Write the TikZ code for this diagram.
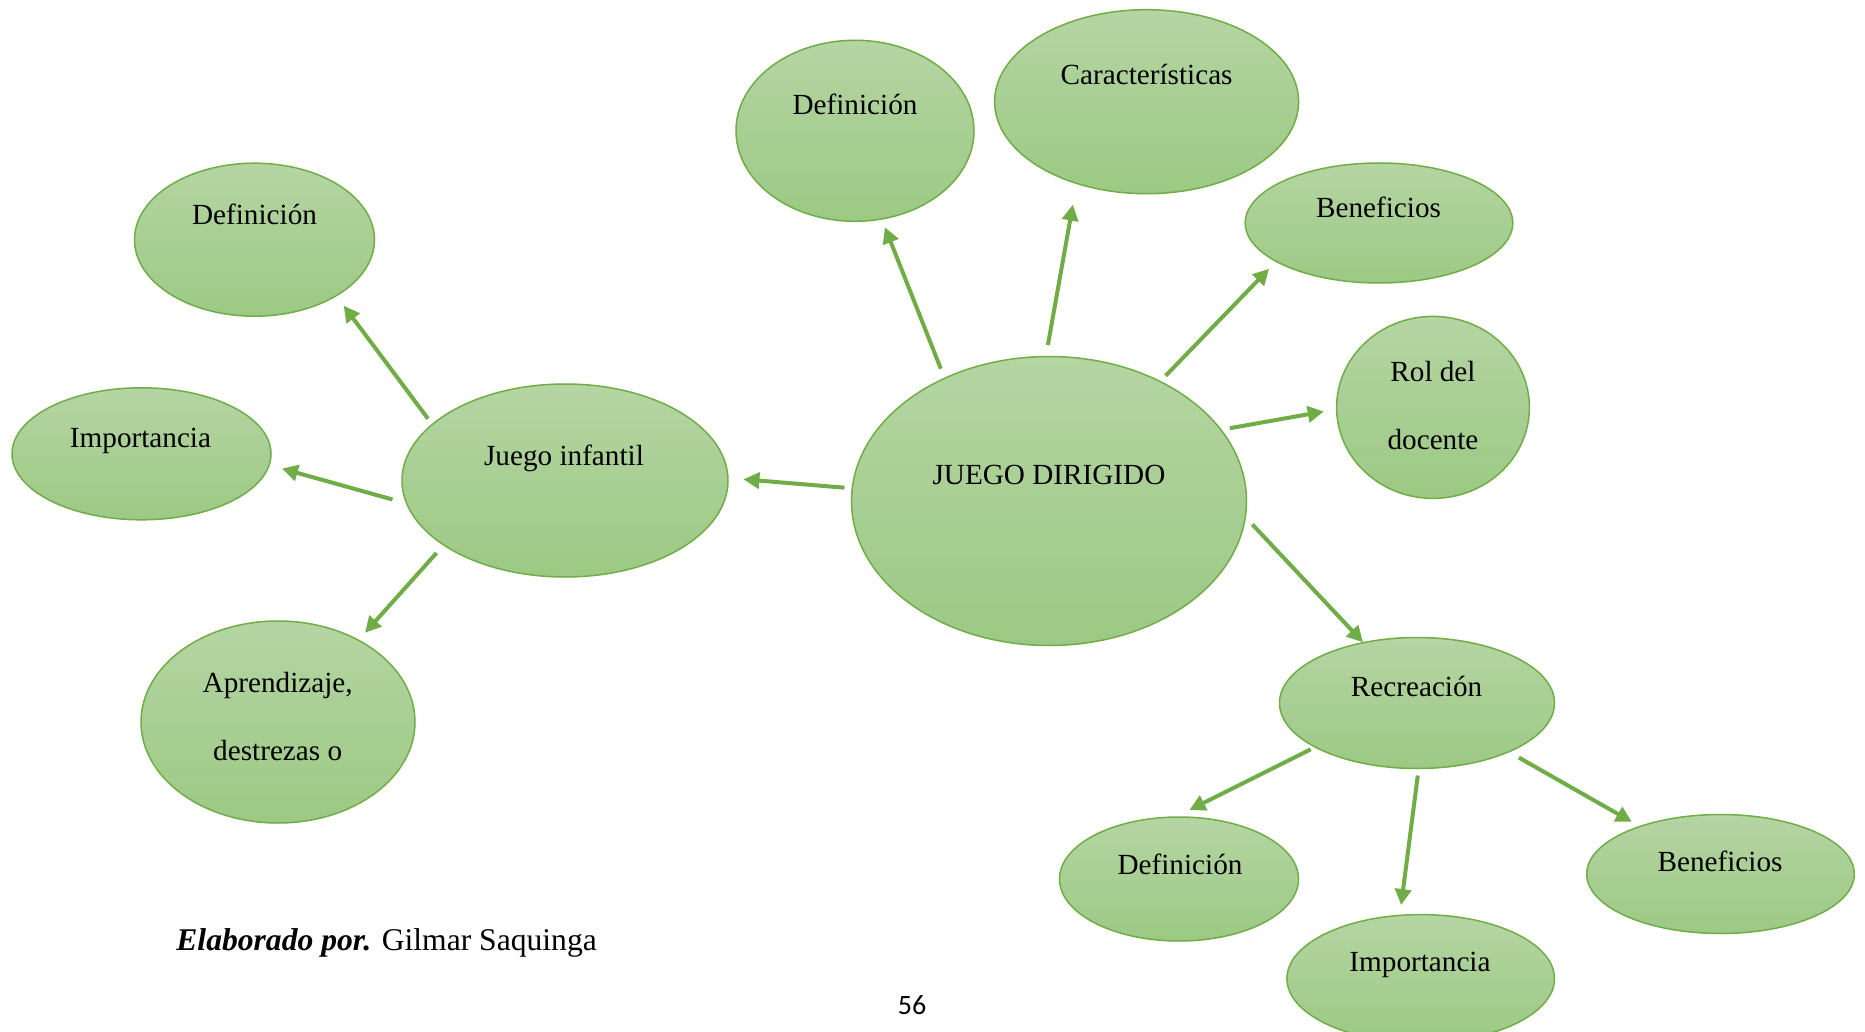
\documentclass[tikz,border=0pt]{standalone}
\usepackage{fontspec}
\setmainfont{Liberation Serif}
\newfontfamily\pagefont{Carlito}
\usetikzlibrary{shapes.geometric,arrows.meta,calc}
\definecolor{grn}{RGB}{112,173,71}
\definecolor{gtop}{RGB}{181,213,163}
\definecolor{gbot}{RGB}{156,201,132}
\tikzset{
  bub/.style={ellipse, draw=grn, line width=0.75pt, top color=gtop, bottom color=gbot, inner sep=0pt},
  lbl/.style={anchor=base, inner sep=0pt, font=\fontsize{14.6}{34}\selectfont},
  arr/.style={draw=grn, line width=2pt, -{Triangle[length=8pt,width=8pt]}},
}
\newcommand{\twoline}[2]{\begin{tabular}[t]{@{}c@{}}#1\\#2\end{tabular}}
\begin{document}
\begin{tikzpicture}[x=0.5pt,y=-0.5pt]
\clip (0,0) rectangle (1865,1032);
\fill[white] (0,0) rectangle (1865,1032);
% ellipses
\node[bub, minimum width=197.5pt, minimum height=144.5pt] (jd) at (1049,501) {};
\node[bub, minimum width=163pt, minimum height=96.5pt] (ji) at (565,480.5) {};
\node[bub, minimum width=120pt, minimum height=76.5pt] (defl) at (254.5,239.7) {};
\node[bub, minimum width=129.5pt, minimum height=66pt] (impl) at (141.5,453.8) {};
\node[bub, minimum width=137pt, minimum height=101pt] (apr) at (278,722) {};
\node[bub, minimum width=119pt, minimum height=90.5pt] (deft) at (855,130.8) {};
\node[bub, minimum width=152pt, minimum height=92pt] (car) at (1146.6,101.7) {};
\node[bub, minimum width=133.8pt, minimum height=60pt] (bent) at (1379,223) {};
\node[bub, minimum width=96.4pt, minimum height=91pt] (rol) at (1433,407.4) {};
\node[bub, minimum width=137.5pt, minimum height=65.5pt] (rec) at (1417,703) {};
\node[bub, minimum width=119.5pt, minimum height=62pt] (defb) at (1179,879) {};
\node[bub, minimum width=133.8pt, minimum height=64pt] (impb) at (1420.7,978.6) {};
\node[bub, minimum width=133.8pt, minimum height=59.5pt] (benb) at (1720.5,874) {};
% labels
\node[lbl] (tjd) at (1049,485) {JUEGO DIRIGIDO};
\node[lbl] (tji) at (564,465.5) {Juego infantil};
\node[lbl] (tdefl) at (254.5,225) {Definición};
\node[lbl] (timpl) at (140.5,447.7) {Importancia};
\node[lbl] (tapr) at (277.7,692) {\twoline{Aprendizaje,}{destrezas o}};
\node[lbl] (tdeft) at (855,114.7) {Definición};
\node[lbl] (tcar) at (1146.6,85) {Características};
\node[lbl] (tbent) at (1378.5,218) {Beneficios};
\node[lbl] (trol) at (1433,382) {\twoline{Rol del}{docente}};
\node[lbl] (trec) at (1416.6,696) {Recreación};
\node[lbl] (tdefb) at (1180,874.7) {Definición};
\node[lbl] (timpb) at (1420,971) {Importancia};
\node[lbl] (tbenb) at (1720,871) {Beneficios};
% arrows
\draw[arr] ($(jd)+(-204.5,-13.3)$) -- ($(ji)+(178.4,-1.2)$);
\draw[arr] ($(jd)+(-108.2,-132.3)$) -- ($(deft)+(29.9,96.4)$);
\draw[arr] ($(jd)+(-1.1,-156)$) -- ($(car)+(-73.7,102.9)$);
\draw[arr] ($(jd)+(116.6,-125.2)$) -- ($(bent)+(-109.9,45.8)$);
\draw[arr] ($(jd)+(180.8,-72.8)$) -- ($(rol)+(-109.2,4.1)$);
\draw[arr] ($(jd)+(203.4,23.5)$) -- ($(rec)+(-54,-60.7)$);
\draw[arr] ($(ji)+(-137,-61.8)$) -- ($(defl)+(89.2,66)$);
\draw[arr] ($(ji)+(-172.5,19)$) -- ($(impl)+(140.4,14.8)$);
\draw[arr] ($(ji)+(-128.5,72.5)$) -- ($(apr)+(87,-89.2)$);
\draw[arr] ($(rec)+(-106.3,46.3)$) -- ($(defb)+(10.4,-69)$);
\draw[arr] ($(rec)+(0.8,72.5)$) -- ($(impb)+(-19.6,-73.5)$);
\draw[arr] ($(rec)+(101.9,54.6)$) -- ($(benb)+(-88.6,-52.1)$);
% footer
\node[anchor=base west, inner sep=0pt, font=\fontsize{15.8}{19}\selectfont] (elab) at (176,950) {\textbf{\textit{Elaborado por.}} Gilmar Saquinga};
\node[anchor=base, inner sep=0pt, font=\pagefont\fontsize{14}{17}\selectfont] (pg) at (912,1014) {56};
\end{tikzpicture}
\end{document}
